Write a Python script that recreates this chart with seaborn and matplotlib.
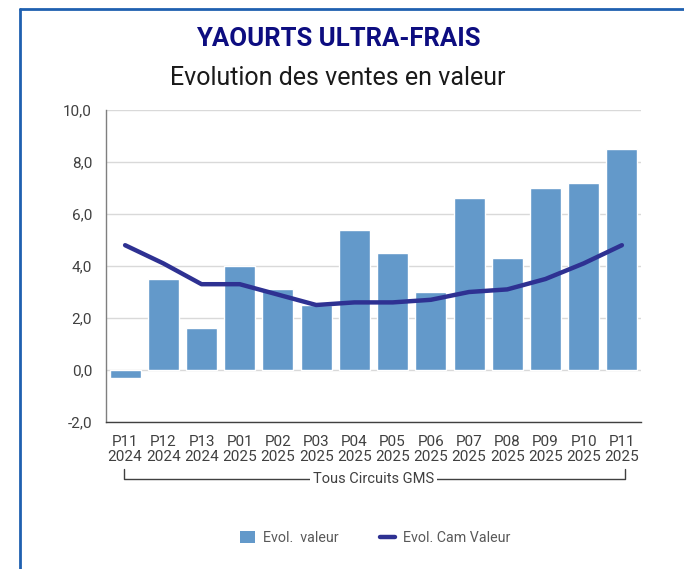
import numpy as np
import pandas as pd
import matplotlib
matplotlib.use("Agg")
import matplotlib.pyplot as plt
from matplotlib.lines import Line2D
from matplotlib.patches import Patch
import matplotlib.transforms as mtransforms
import seaborn as sns

periods = ["P11", "P12", "P13", "P01", "P02", "P03", "P04", "P05", "P06", "P07", "P08", "P09", "P10", "P11"]
years = ["2024", "2024", "2024", "2025", "2025", "2025", "2025", "2025", "2025", "2025", "2025", "2025", "2025", "2025"]
evol_valeur = [-0.3, 3.5, 1.6, 4.0, 3.1, 2.5, 5.4, 4.5, 3.0, 6.6, 4.3, 7.0, 7.2, 8.5]
evol_cam = [4.8, 4.1, 3.3, 3.3, 2.9, 2.5, 2.6, 2.6, 2.7, 3.0, 3.1, 3.5, 4.1, 4.8]
y_ticks = [-2, 0, 2, 4, 6, 8, 10]

sns.set_theme(style="white")
plt.rcParams["font.family"] = ["Roboto", "DejaVu Sans"]

labels = [f"{p}\n{y}" for p, y in zip(periods, years)]
df = pd.DataFrame({"label": labels, "valeur": evol_valeur, "cam": evol_cam,
                   "pos": np.arange(len(labels))})

bar_color = "#6399ca"
line_color = "#2e3192"
text_color = "#404040"

fig = plt.figure(figsize=(6.84, 5.69), dpi=100)
ax = fig.add_axes([106 / 684, 1 - 422 / 569, (641 - 106) / 684, (422 - 110) / 569])

sns.barplot(data=df, x="label", y="valeur", color=bar_color, width=0.81,
            saturation=1, ax=ax, zorder=2)
sns.lineplot(data=df, x="pos", y="cam", color=line_color, linewidth=3.2,
             ax=ax, zorder=3, sort=False)

ax.set_xlim(-0.5, len(labels) - 0.5)
ax.set_ylim(-2, 10)
ax.set_yticks(y_ticks)
ax.set_yticklabels([f"{v:.1f}".replace(".", ",") for v in y_ticks])
ax.set_xticks(np.arange(len(labels)))
ax.set_xticklabels(labels, linespacing=1.15)
ax.set_xlabel("")
ax.set_ylabel("")
ax.grid(axis="y", color="#d9d9d9", linewidth=1, zorder=0)
ax.set_axisbelow(True)
ax.tick_params(axis="both", length=0, labelsize=11, labelcolor=text_color)
ax.tick_params(axis="x", pad=9)
ax.tick_params(axis="y", pad=10)
for s in ["top", "right"]:
    ax.spines[s].set_visible(False)
ax.spines["left"].set_color("#7f7f7f")
ax.spines["bottom"].set_color("#404040")
ax.spines["left"].set_linewidth(1)
ax.spines["bottom"].set_linewidth(1)

# category group bracket
trans = mtransforms.blended_transform_factory(ax.transData, ax.transAxes)
yb = -0.184
yt = -0.15
ax.plot([-0.03, -0.03, 13.08, 13.08], [yt, yb, yb, yt], transform=trans,
        color="#404040", linewidth=1, clip_on=False)
ax.text(6.5, yb, "Tous Circuits GMS", transform=trans, ha="center", va="center",
        fontsize=10.5, color=text_color,
        bbox=dict(facecolor="white", edgecolor="none", pad=2))

# titles
fig.text(0.494, 1 - 39 / 569, "YAOURTS ULTRA-FRAIS", ha="center", va="center",
         fontsize=18.5, fontweight="bold", color="#0d0d80")
fig.text(0.494, 1 - 78 / 569, "Evolution des ventes en valeur", ha="center", va="center",
         fontsize=18, color="#1a1a1a")

# legend
handles = [Patch(facecolor=bar_color, edgecolor="none"),
           Line2D([0], [0], color=line_color, linewidth=3.2)]
fig.legend(handles, ["Evol.  valeur", "Evol. Cam Valeur"], loc="center",
           bbox_to_anchor=(0.548, 1 - 538 / 569), ncol=2, frameon=False,
           fontsize=10.3, labelcolor="#595959", handlelength=1.1, handleheight=0.9,
           columnspacing=2.9, handletextpad=0.5)

# outer border (left and top)
fig.add_artist(Line2D([20 / 684, 20 / 684], [0, 1 - 9 / 569], transform=fig.transFigure,
                      color="#1f60b0", linewidth=2))
fig.add_artist(Line2D([20 / 684, 1], [1 - 9 / 569, 1 - 9 / 569], transform=fig.transFigure,
                      color="#1f60b0", linewidth=2))

fig.savefig("out.png", dpi=100)
